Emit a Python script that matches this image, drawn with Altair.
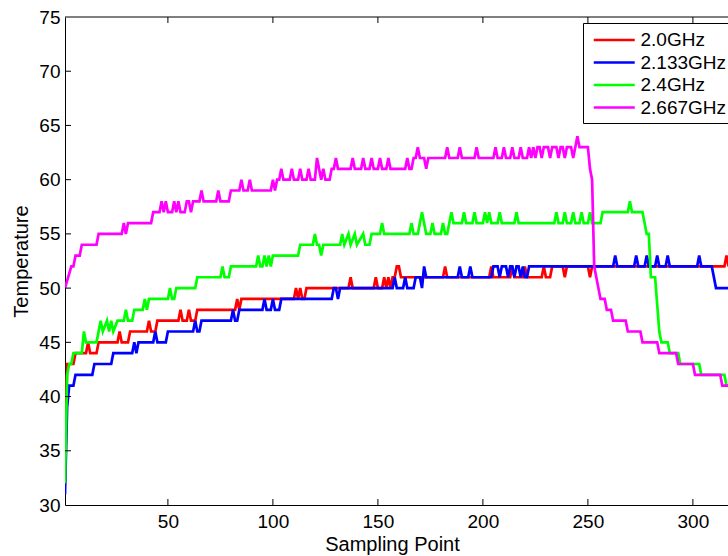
import altair as alt
import pandas as pd

series_names = ["2.0GHz", "2.133GHz", "2.4GHz", "2.667GHz"]
series_colors = ["#FF0000", "#0000FF", "#00FF00", "#FF00FF"]

x_tick_values = [50, 100, 150, 200, 250, 300]
y_tick_values = [30, 35, 40, 45, 50, 55, 60, 65, 70, 75]

# 2.0GHz (red) sample points
red_x = [1, 2, 5, 6, 11, 12, 13, 16, 17, 26, 27, 28, 31, 32, 40, 41, 42, 44, 45, 55, 56, 57, 59, 60, 61, 63, 64,
         82, 83, 84, 85, 110, 111, 112, 113, 114, 115, 116, 136, 137, 138, 148, 149, 150, 152, 153, 154, 155, 156,
         157, 158, 159, 160, 161, 181, 182, 183, 203, 204, 205, 213, 214, 215, 219, 220, 221, 228, 229, 230, 232,
         233, 238, 239, 240, 250, 251, 252, 315, 316, 317]
red_y = [32, 43, 43, 44, 44, 45, 44, 44, 45, 45, 46, 45, 45, 46, 46, 47, 46, 46, 47, 47, 48, 47, 47, 48, 47, 47, 48,
         48, 49, 48, 49, 49, 50, 49, 50, 49, 49, 50, 50, 51, 50, 50, 51, 50, 50, 51, 50, 51, 50,
         51, 51, 52, 52, 51, 51, 52, 51, 51, 52, 51, 51, 52, 51, 51, 52, 51, 51, 52, 51, 51,
         52, 52, 51, 52, 52, 51, 52, 52, 53, 52]

# 2.133GHz (blue)
blue_x = [1, 2, 3, 5, 6, 14, 15, 23, 24, 33, 34, 35, 36, 43, 44, 45, 49, 50, 62, 63, 64, 65, 66, 80, 81, 82, 83, 84,
          95, 96, 97, 99, 100, 101, 103, 104, 128, 129, 130, 131, 132, 157, 158, 159, 162, 163, 164, 167, 168, 170,
          171, 172, 173, 188, 189, 190, 193, 194, 195, 204, 205, 207, 208, 209, 211, 212, 213, 214, 215, 216, 217,
          218, 219, 220, 221, 222, 262, 263, 264, 272, 273, 274, 277, 278, 279, 282, 283, 284, 287, 288, 289, 302,
          303, 304, 309, 311, 317]
blue_y = [31, 39, 41, 41, 42, 42, 43, 43, 44, 44, 45, 44, 45, 45, 46, 45, 45, 46, 46, 47, 46, 46, 47, 47, 48, 47, 47, 48,
          48, 49, 48, 48, 49, 48, 48, 49, 49, 50, 50, 49, 50, 50, 51, 50, 50, 51, 50, 50, 51, 51,
          50, 52, 51, 51, 52, 51, 51, 52, 51, 51, 52, 52, 51, 52, 52, 51, 52, 52, 51, 52, 52,
          51, 52, 51, 51, 52, 52, 53, 52, 52, 53, 52, 52, 53, 52, 52, 53, 52, 52, 53, 52, 52,
          53, 52, 52, 50, 50]

# 2.4GHz (green)
green_x = [1, 2, 3, 4, 5, 9, 10, 11, 16, 18, 19, 21, 22, 23, 24, 26, 29, 30, 31, 33, 34, 38, 39, 40, 41, 50, 51, 52,
           53, 54, 63, 64, 75, 76, 77, 79, 80, 92, 93, 94, 95, 96, 97, 98, 99, 100, 112, 113, 119, 120, 121, 122,
           123, 124, 132, 133, 134, 136, 137, 139, 140, 143, 144, 146, 147, 151, 152, 153, 165, 166, 167, 169, 171,
           173, 175, 176, 177, 180, 181, 182, 183, 184, 185, 186, 190, 191, 192, 195, 196, 197, 200, 201, 202, 203,
           204, 207, 208, 209, 215, 216, 217, 234, 235, 236, 238, 239, 240, 242, 243, 244, 246, 247, 248, 250, 251,
           252, 256, 257, 269, 270, 271, 276, 278, 279, 280, 282, 284, 285, 288, 289, 293, 294, 303, 304, 315, 316,
           317]
green_y = [32, 42, 43, 43, 44, 44, 46, 45, 45, 47, 46, 47, 46, 47, 46, 47, 47, 48, 47, 47, 48, 48, 49, 48, 49, 49, 50, 49,
           49, 50, 50, 51, 51, 52, 51, 51, 52, 52, 53, 52, 52, 53, 52, 53, 52, 53, 53, 54, 54, 55, 54, 54,
           53, 54, 54, 55, 54, 55, 54, 55, 54, 55, 54, 54, 55, 55, 56, 55, 55, 56, 55, 55, 57,
           55, 55, 56, 55, 55, 56, 55, 55, 56, 57, 56, 56, 57, 56, 56, 57, 56, 56, 57, 56, 57,
           56, 56, 57, 56, 56, 57, 56, 56, 57, 56, 56, 57, 56, 56, 57, 56, 56, 57, 56, 56, 57,
           56, 56, 57, 57, 58, 57, 57, 55, 55, 51, 51, 46, 45, 45, 44, 44, 43, 43, 42, 42, 41,
           41]

# 2.667GHz (magenta)
mag_x = [1, 4, 5, 6, 8, 9, 16, 17, 28, 29, 30, 31, 42, 43, 46, 47, 48, 49, 50, 52, 53, 54, 55, 56, 58, 59, 60, 61, 62,
         65, 66, 67, 73, 74, 75, 79, 80, 84, 85, 86, 88, 89, 90, 99, 100, 101, 102, 103, 104, 105, 108, 109, 110,
         112, 113, 114, 116, 117, 118, 120, 121, 123, 124, 125, 127, 128, 129, 130, 131, 137, 138, 139, 142, 143,
         144, 146, 147, 148, 150, 151, 152, 154, 155, 156, 163, 164, 165, 166, 167, 168, 169, 170, 172, 173, 174,
         182, 183, 184, 188, 189, 190, 196, 197, 198, 205, 206, 207, 209, 210, 211, 213, 214, 215, 217, 218, 219,
         221, 222, 223, 224, 225, 226, 227, 228, 229, 231, 232, 233, 235, 236, 237, 238, 239, 240, 242, 243, 245,
         246, 250, 251, 252, 253, 254, 255, 256, 258, 259, 261, 262, 268, 269, 275, 276, 283, 284, 292, 293, 300,
         301, 313, 314, 317]
mag_y = [50, 52, 52, 53, 53, 54, 54, 55, 55, 56, 55, 56, 56, 57, 57, 58, 57, 58, 57, 57, 58, 57, 58, 57, 57, 58, 58, 57, 58,
         58, 59, 58, 58, 59, 58, 58, 59, 59, 60, 59, 59, 60, 59, 59, 60, 59, 60, 60, 61, 60, 60, 61, 60,
         60, 61, 60, 60, 61, 60, 60, 62, 60, 61, 60, 60, 61, 61, 62, 61, 61, 62, 61, 61, 62,
         61, 61, 62, 61, 61, 62, 61, 61, 62, 61, 61, 62, 61, 61, 62, 62, 63, 62, 62, 61, 62,
         62, 63, 62, 62, 63, 62, 62, 63, 62, 62, 63, 62, 62, 63, 62, 62, 63, 62, 62, 63, 62,
         62, 63, 62, 63, 62, 63, 63, 62, 63, 63, 62, 63, 63, 62, 63, 63, 62, 63, 63, 62, 64,
         63, 63, 61, 60, 52, 51, 50, 49, 49, 48, 48, 47, 47, 46, 46, 45, 45, 44, 44, 43, 43,
         42, 42, 41, 41]

series_data = [(series_names[0], red_x, red_y), (series_names[1], blue_x, blue_y),
               (series_names[2], green_x, green_y), (series_names[3], mag_x, mag_y)]
rows = []
for k, (name, xs, ys) in enumerate(series_data):
    assert len(xs) == len(ys), name
    for x, y in zip(xs, ys):
        rows.append({"series": name, "sample": x, "temp": y, "k": k})
df = pd.DataFrame(rows)

W, H = 663, 488
FONT = "Liberation Sans"
x_scale = alt.Scale(domain=[1, 1 + W / 2.1], nice=False, zero=False)
y_scale = alt.Scale(domain=[30, 75], nice=False, zero=False)

x_axis = alt.Axis(values=x_tick_values, title="Sampling Point", grid=False, ticks=False, tickSize=0,
                  labelPadding=7, titleX=327, titleY=45, titleBaseline="alphabetic",
                  titleAlign="center")
y_axis = alt.Axis(values=y_tick_values, title="Temperature", grid=False, ticks=False, tickSize=0,
                  labelPadding=5, titleX=-38, titleY=H / 2, titleAngle=270,
                  titleBaseline="alphabetic", titleAlign="center")

lines = alt.Chart(df).mark_line(strokeWidth=2.7, clip=True).encode(
    x=alt.X("sample:Q", scale=x_scale, axis=x_axis),
    y=alt.Y("temp:Q", scale=y_scale, axis=y_axis),
    color=alt.Color("series:N", scale=alt.Scale(domain=series_names, range=series_colors),
                    legend=alt.Legend(title=None, orient="none", legendX=518, legendY=6,
                                      symbolType="M-0.61,0H3.39", symbolSize=420, symbolStrokeWidth=2.7,
                                      symbolFillColor="transparent",
                                      labelFont=FONT, labelFontSize=19, labelColor="black",
                                      labelOffset=28.5, labelLimit=300,
                                      strokeColor="black", fillColor="white", padding=5,
                                      rowPadding=0.5, cornerRadius=0)),
    detail="k:N",
)

xt = pd.DataFrame({"sample": x_tick_values})
yt = pd.DataFrame({"temp": y_tick_values[1:-1]})
tick_bottom = alt.Chart(xt).mark_rule(color="black", strokeWidth=1).encode(
    x=alt.X("sample:Q", scale=x_scale, axis=x_axis), y=alt.value(H - 6), y2=alt.value(H))
tick_top = alt.Chart(xt).mark_rule(color="black", strokeWidth=1).encode(
    x=alt.X("sample:Q", scale=x_scale, axis=x_axis), y=alt.value(0), y2=alt.value(6))
tick_left = alt.Chart(yt).mark_rule(color="black", strokeWidth=1).encode(
    y=alt.Y("temp:Q", scale=y_scale, axis=y_axis), x=alt.value(0), x2=alt.value(6))
top_border = alt.Chart(pd.DataFrame({"a": [0]})).mark_rule(color="black", strokeWidth=1).encode(
    x=alt.value(0), x2=alt.value(W), y=alt.value(0))

chart = alt.layer(lines, tick_bottom, tick_top, tick_left, top_border).properties(
    width=W, height=H,
    autosize=alt.AutoSizeParams(type="none"),
    padding={"left": 65, "top": 17, "right": 0, "bottom": 51},
    background="white",
).configure_view(stroke=None).configure_axis(
    domainColor="black", domainWidth=1, labelFont=FONT, labelFontSize=19, labelColor="black",
    titleFont=FONT, titleFontSize=20, titleColor="black", titleFontWeight="normal",
)

chart.save("out.html", embed_options={"renderer": "svg", "actions": False})
